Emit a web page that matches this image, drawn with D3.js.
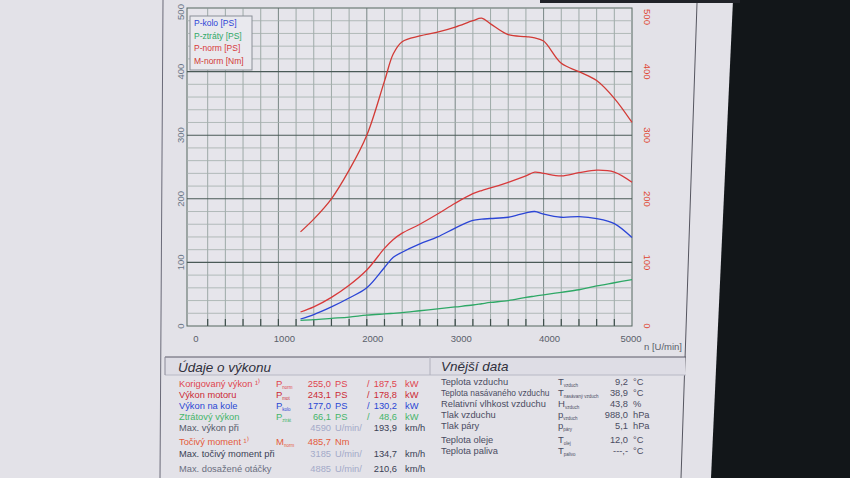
<!DOCTYPE html>
<html>
<head>
<meta charset="utf-8">
<script src="https://cdn.jsdelivr.net/npm/d3@7"></script>
<style>
  body { margin: 0; background: #e3e2e8; }
  svg { display: block; font-family: "Liberation Sans", Arial, sans-serif; }
</style>
</head>
<body>
<div id="chart"></div>
<script>
// rpm points of the measured curves
const rpm      = [1250, 1400, 1600, 1800, 2000, 2200, 2300, 2400, 2600, 2800, 3000, 3200, 3300, 3400, 3600, 3800, 3900, 4000, 4200, 4400, 4600, 4800, 5000];
const pKolo    = [11, 18, 30, 44, 60, 92, 108, 116, 129, 140, 154, 166, 168, 169, 171, 178, 180, 176, 171, 172, 169, 161, 139];
const pZtraty  = [9, 10, 12, 14, 17, 19, 20, 21, 24, 27, 30, 33, 35, 37, 40, 45, 47, 49, 53, 57, 63, 68, 73];
const pNorm    = [22, 30, 45, 64, 88, 122, 136, 146, 160, 176, 193, 208, 213, 217, 226, 236, 242, 240, 236, 241, 245, 242, 226];
const mNorm    = [148, 168, 200, 245, 300, 385, 428, 447, 456, 462, 470, 480, 484, 475, 458, 455, 453, 448, 413, 400, 386, 358, 320];

const xTicks = [0, 1000, 2000, 3000, 4000, 5000];
const yTicks = [0, 100, 200, 300, 400, 500];

const seriesNames  = ['P-kolo [PS]', 'P-ztráty [PS]', 'P-norm [PS]', 'M-norm [Nm]'];
const seriesValues = [pKolo, pZtraty, pNorm, mNorm];
const seriesColors = ['#2b45d6', '#2ea866', '#d8393a', '#d23a35'];

// performance table
const perfLabels  = ['Korigovaný výkon ¹⁾', 'Výkon motoru', 'Výkon na kole', 'Ztrátový výkon', 'Max. výkon při', 'Točivý moment ¹⁾', 'Max. točivý moment při', 'Max. dosažené otáčky'];
const perfSymbols = [['P', 'norm'], ['P', 'mot'], ['P', 'kolo'], ['P', 'ztrát'], null, ['M', 'norm'], null, null];
const perfValues  = ['255,0', '243,1', '177,0', '66,1', '4590', '485,7', '3185', '4885'];
const perfUnits   = ['PS', 'PS', 'PS', 'PS', 'U/min/', 'Nm', 'U/min/', 'U/min/'];
const perfValues2 = ['187,5', '178,8', '130,2', '48,6', '193,9', null, '134,7', '210,6'];
const perfUnits2  = ['kW', 'kW', 'kW', 'kW', 'km/h', null, 'km/h', 'km/h'];
const perfColors  = ['#e0454e', '#cc2a35', '#2a48d4', '#45b56a', '#555a6a', '#e45a3a', '#3a3f55', '#6a6e80'];

// ambient table
const envLabels  = ['Teplota vzduchu', 'Teplota nasávaného vzduchu', 'Relativní vlhkost vzduchu', 'Tlak vzduchu', 'Tlak páry', 'Teplota oleje', 'Teplota paliva'];
const envSymbols = [['T', 'vzduch'], ['T', 'nasávaný vzduch'], ['H', 'vzduch'], ['p', 'vzduch'], ['p', 'páry'], ['T', 'olej'], ['T', 'palivo']];
const envValues  = ['9,2', '38,9', '43,8', '988,0', '5,1', '12,0', '---,-'];
const envUnits   = ['°C', '°C', '%', 'hPa', 'hPa', '°C', '°C'];

const W = 850, H = 478;
const svg = d3.select('#chart').append('svg').attr('width', W).attr('height', H);

svg.append('rect').attr('width', W).attr('height', H).attr('fill', '#e3e2e8');
// monitor bezel on the right, dark strip on top
svg.append('polygon').attr('points', '733,0 850,0 850,478 711,478').attr('fill', '#121619');
svg.append('rect').attr('x', 540).attr('y', 0).attr('width', 200).attr('height', 3).attr('fill', '#202228');
svg.append('line').attr('x1', 163).attr('x2', 160).attr('y1', 0).attr('y2', H).attr('stroke', '#6a6a78');
svg.append('line').attr('x1', 697).attr('x2', 681).attr('y1', 3).attr('y2', H).attr('stroke', '#55555f');

const x = d3.scaleLinear().domain([0, 5000]).range([190, 632]);
const y = d3.scaleLinear().domain([0, 500]).range([326, 8]);

// plot background
svg.append('rect').attr('x', 187).attr('y', 8).attr('width', 632 - 187).attr('height', 326 - 8)
  .attr('fill', '#e6e5eb').attr('stroke', '#55665f');

// grid
const grid = svg.append('g');
d3.range(200, 5000, 200).forEach(v => {
  grid.append('line').attr('x1', x(v)).attr('x2', x(v)).attr('y1', 8).attr('y2', 326)
    .attr('stroke', v % 1000 === 0 ? '#5c6d69' : '#8c9b97').attr('stroke-width', 0.8);
});
d3.range(20, 500, 20).forEach(v => {
  grid.append('line').attr('x1', 187).attr('x2', 632).attr('y1', y(v)).attr('y2', y(v))
    .attr('stroke', v % 100 === 0 ? '#4a5a57' : '#a3afac').attr('stroke-width', v % 100 === 0 ? 1.1 : 0.8);
});
// inward ticks on bottom
d3.range(200, 5000, 200).forEach(v => {
  grid.append('line').attr('x1', x(v)).attr('x2', x(v)).attr('y1', 319).attr('y2', 326)
    .attr('stroke', '#3f4f4c').attr('stroke-width', 1.2);
});

// axis labels
svg.append('g').selectAll('text').data(xTicks).join('text')
  .attr('x', d => x(d) + (d === 5000 ? -1 : 6)).attr('y', 342).attr('text-anchor', 'middle')
  .attr('font-size', 9.5).attr('fill', '#5a5f6a').text(d => d);
svg.append('text').attr('x', 644).attr('y', 350).attr('font-size', 9.5).attr('fill', '#5a5f6a').text('n [U/min]');

svg.append('g').selectAll('text').data(yTicks).join('text')
  .attr('transform', d => `translate(184,${y(d) + (d === 500 ? 4 : 0)}) rotate(-90)`)
  .attr('text-anchor', 'middle').attr('font-size', 9.5).attr('fill', '#6a7686').text(d => d);
svg.append('g').selectAll('text').data(yTicks).join('text')
  .attr('transform', d => `translate(644,${y(d) + (d === 500 ? 9 : 0)}) rotate(90)`)
  .attr('text-anchor', 'middle').attr('font-size', 9.5).attr('fill', '#e0452e').text(d => d);

// curves
const line = d3.line().x(d => x(d[0])).y(d => y(d[1])).curve(d3.curveCatmullRom.alpha(0.5));
seriesValues.forEach((vals, i) => {
  svg.append('path').datum(rpm.map((r, k) => [r, vals[k]]))
    .attr('fill', 'none').attr('stroke', seriesColors[i]).attr('stroke-width', 1.3).attr('d', line);
});

// legend
const legend = svg.append('g').attr('transform', 'translate(190,16)');
legend.append('rect').attr('width', 62).attr('height', 54).attr('fill', '#e9e9ee').attr('stroke', '#8a8f98');
seriesNames.forEach((s, i) => {
  legend.append('text').attr('x', 4).attr('y', 10 + i * 12.5).attr('font-size', 8.5)
    .attr('fill', seriesColors[i]).text(s);
});

// bottom tables
svg.append('rect').attr('x', 165).attr('y', 357).attr('width', 520).attr('height', 18).attr('fill', '#dedde5');
svg.append('line').attr('x1', 165).attr('x2', 686).attr('y1', 357).attr('y2', 357).attr('stroke', '#5a5a68');
svg.append('line').attr('x1', 165).attr('x2', 686).attr('y1', 375).attr('y2', 375).attr('stroke', '#b8b8c4');
svg.append('line').attr('x1', 165).attr('x2', 165).attr('y1', 357).attr('y2', 375).attr('stroke', '#8a8a98');
svg.append('line').attr('x1', 430).attr('x2', 430).attr('y1', 357).attr('y2', 375).attr('stroke', '#b0b0bc');

svg.append('text').attr('x', 178).attr('y', 372).attr('font-size', 13.5).attr('font-style', 'italic')
  .attr('fill', '#30303c').text('Údaje o výkonu');
svg.append('text').attr('x', 441).attr('y', 371).attr('font-size', 13.5).attr('font-style', 'italic')
  .attr('fill', '#30303c').text('Vnější data');

function symbol(g, xPos, yPos, sym, color) {
  const t = g.append('text').attr('x', xPos).attr('y', yPos).attr('font-size', 9.5).attr('fill', color);
  t.append('tspan').text(sym[0]);
  t.append('tspan').attr('font-size', 4.5).attr('dy', 2).text(sym[1]);
}

const fs = 9.3;
const perfRows = [387, 398, 409, 420, 431, 445, 457, 472];
const perf = svg.append('g');
perfLabels.forEach((lab, i) => {
  const c = perfColors[i];
  const yy = perfRows[i];
  const muted = perfSymbols[i] === null;
  perf.append('text').attr('x', 179).attr('y', yy).attr('font-size', fs).attr('fill', c).text(lab);
  if (perfSymbols[i]) symbol(perf, 276, yy, perfSymbols[i], c);
  perf.append('text').attr('x', 331).attr('y', yy).attr('text-anchor', 'end').attr('font-size', fs)
    .attr('fill', muted ? '#a4aac8' : c).text(perfValues[i]);
  perf.append('text').attr('x', 335).attr('y', yy).attr('font-size', fs)
    .attr('fill', muted ? '#a4aac8' : c).text(perfUnits[i]);
  if (perfValues2[i]) {
    if (!muted) perf.append('text').attr('x', 367).attr('y', yy).attr('font-size', fs).attr('fill', c).text('/');
    perf.append('text').attr('x', 397).attr('y', yy).attr('text-anchor', 'end').attr('font-size', fs)
      .attr('fill', muted ? '#3a3f55' : c).text(perfValues2[i]);
    perf.append('text').attr('x', 405).attr('y', yy).attr('font-size', fs)
      .attr('fill', muted ? '#3a3f55' : c).text(perfUnits2[i]);
  }
});

const envRows = [385, 396, 407, 418, 429, 443, 454];
const env = svg.append('g');
envLabels.forEach((lab, i) => {
  const yy = envRows[i];
  const c = '#4a4c62';
  env.append('text').attr('x', 441).attr('y', yy).attr('font-size', lab.length > 25 ? 8.4 : fs).attr('fill', c).text(lab);
  symbol(env, 558, yy, envSymbols[i], c);
  env.append('text').attr('x', 628).attr('y', yy).attr('text-anchor', 'end').attr('font-size', fs).attr('fill', c).text(envValues[i]);
  env.append('text').attr('x', 633).attr('y', yy).attr('font-size', fs).attr('fill', c).text(envUnits[i]);
});
</script>
</body>
</html>
